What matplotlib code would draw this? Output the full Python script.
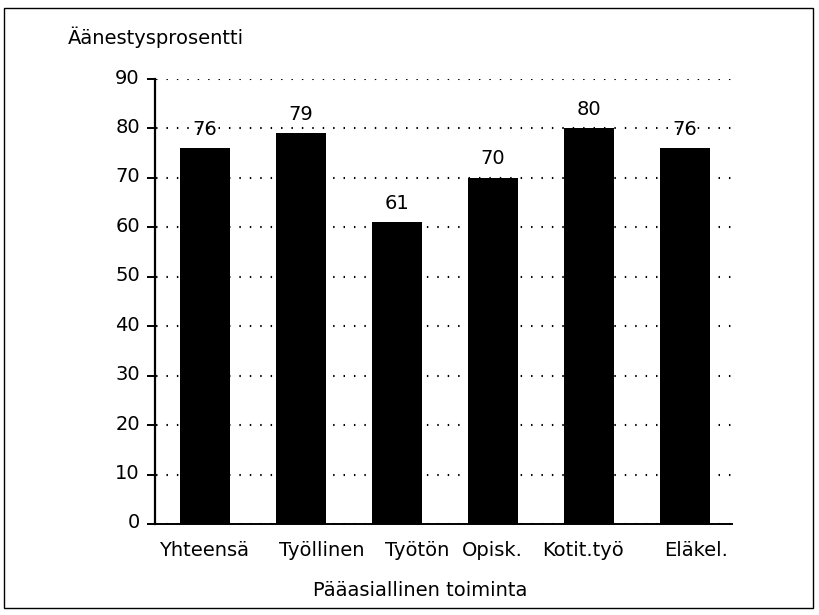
import matplotlib.pyplot as plt
from matplotlib.patches import Rectangle
from matplotlib.transforms import ScaledTranslation

categories = ["Yhteensä", "Työllinen", "Työtön", "Opisk.", "Kotit.työ", "Eläkel."]
values = [76, 79, 61, 70, 80, 76]
yticks = [0, 10, 20, 30, 40, 50, 60, 70, 80, 90]

# small horizontal shifts of the category labels, in pixels (as in the original print)
label_shift = [-1, 21, 20, -1, -6, 11]

plt.rcParams["font.family"] = ["DejaVu Sans"]
plt.rcParams["font.size"] = 14

fig = plt.figure(figsize=(8.19, 6.15), dpi=100)
ax = fig.add_axes([0.1893, 0.148, 0.7045, 0.7235])

x = range(len(categories))
bars = ax.bar(x, values, width=0.52, color="black", zorder=3)
ax.bar_label(bars, labels=[str(v) for v in values], padding=7, fontsize=14)

ax.set_xlim(-0.52, 5.49)
ax.set_ylim(0, 90)
ax.set_yticks(yticks)
ax.set_xticks(list(x))
ax.set_xticklabels(categories)

ax.yaxis.grid(True, color="black", linestyle=(4.5, (0.7, 4.3)), linewidth=1.5, zorder=0)
ax.xaxis.grid(False)

ax.spines["top"].set_visible(False)
ax.spines["right"].set_visible(False)
ax.spines["left"].set_linewidth(1.6)
ax.spines["bottom"].set_linewidth(1.4)
ax.tick_params(axis="y", length=6, width=1.4, pad=5)
ax.tick_params(axis="x", length=0, pad=12)

for lab, dx in zip(ax.get_xticklabels(), label_shift):
    lab.set_transform(lab.get_transform() + ScaledTranslation(dx / 100, 0, fig.dpi_scale_trans))
for lab in ax.get_yticklabels():
    lab.set_transform(lab.get_transform() + ScaledTranslation(0, 3 / 100, fig.dpi_scale_trans))

ax.set_xlabel("Pääasiallinen toiminta", va="center")
ax.xaxis.set_label_coords(0.459, -0.1506)
fig.text(68 / 819, 1 - 37 / 615, "Äänestysprosentti", ha="left", va="center", fontsize=14)

fig.patches.append(Rectangle((0.005, 0.012), 0.988, 0.975, transform=fig.transFigure,
                             fill=False, edgecolor="black", linewidth=1.0))

fig.savefig("out.png", dpi=100)
